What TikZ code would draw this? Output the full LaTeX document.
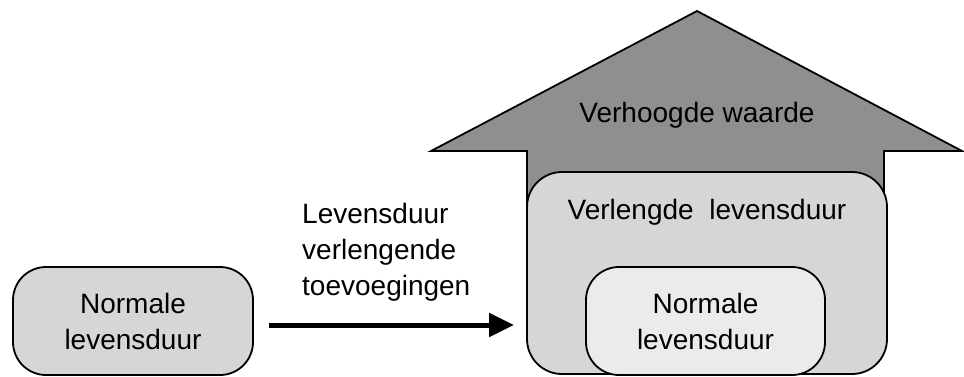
\documentclass[tikz,border=0pt]{standalone}
\usepackage{fontspec}
\setmainfont{Liberation Sans}
\usetikzlibrary{arrows.meta}

\definecolor{pijlgrijs}{gray}{0.56}
\definecolor{vakgrijs}{gray}{0.84}
\definecolor{binnengrijs}{gray}{0.92}

\begin{document}
\begin{tikzpicture}[x=1pt, y=1pt,
    vak/.style={draw, line width=1.8pt, rounded corners=33pt, align=center,
        inner sep=0pt, font=\fontsize{28}{36}\selectfont},
    tekst/.style={inner sep=0pt, font=\fontsize{28}{36}\selectfont},
    flow/.style={line width=5pt, -{Triangle[length=25pt, width=23pt]}}]

    \useasboundingbox (0,0) rectangle (964,376);

    %-------------------------
    % Pijl verhoogde waarde
    %-------------------------
    \draw[line width=1.8pt, fill=pijlgrijs]
    (431,225) -- (697,365) -- (962,225) -- (884,225)
    -- (884,150) -- (527,150) -- (527,225) -- cycle;

    \node[tekst] (waarde) at (697,261) {Verhoogde waarde};

    %-------------------------
    % Vakken
    %-------------------------
    \node[vak, fill=vakgrijs, minimum width=360pt, minimum height=202pt,
        rounded corners=35pt] (verlengd) at (707,103) {};
    \node[tekst] (verlengdtekst) at ([yshift=-41pt]verlengd.north)
        {Verlengde\ \ levensduur};

    \node[vak, fill=binnengrijs, minimum width=239pt, minimum height=108pt]
        (binnen) at (705.5,55) {Normale\\levensduur};

    \node[vak, fill=vakgrijs, minimum width=240pt, minimum height=108pt]
        (normaal) at (133,55) {Normale\\levensduur};

    %-------------------------
    % Pijl toevoegingen
    %-------------------------
    \draw[flow, shorten <=15pt, shorten >=12pt]
    ([yshift=-4pt]normaal.east) -- ([yshift=-4pt]normaal.east -| verlengd.west);

    \node[tekst, align=left, anchor=west] (toevoeging) at (302,124)
        {Levensduur\\verlengende\\toevoegingen};

\end{tikzpicture}
\end{document}
